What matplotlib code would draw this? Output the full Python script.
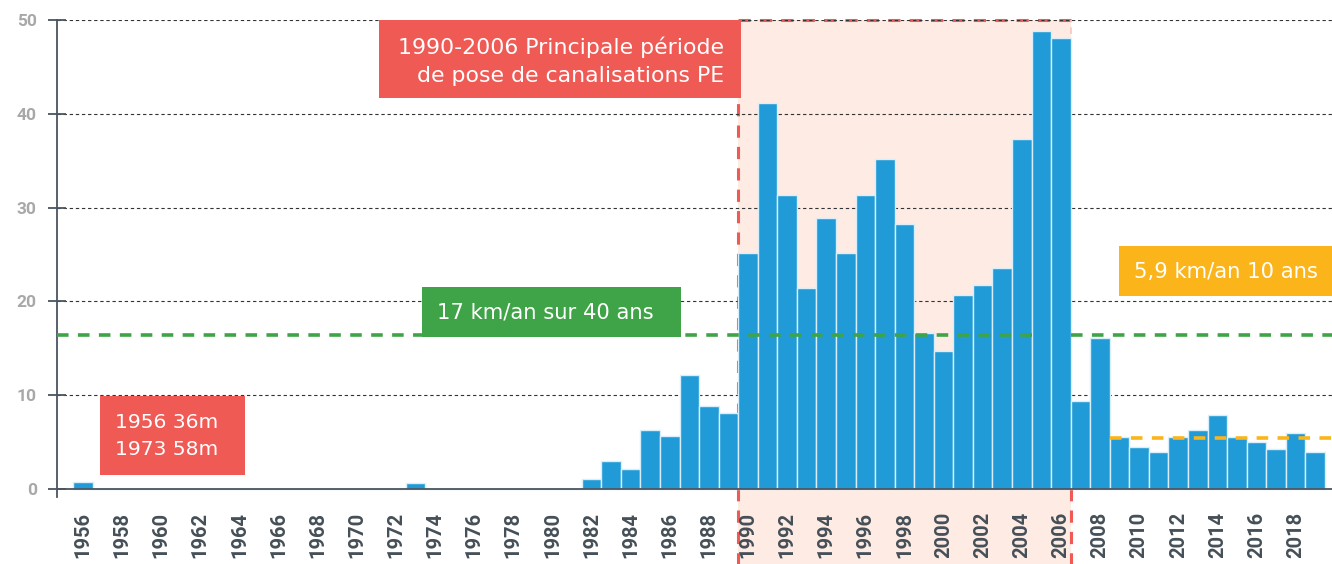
import numpy as np
import matplotlib
matplotlib.use('Agg')
import matplotlib.pyplot as plt
from matplotlib.patches import Rectangle

years = np.arange(1956, 2020)
values = np.zeros(len(years))
values[years == 1956] = 0.7
values[years == 1973] = 0.6
recent_years = np.arange(1982, 2020)
recent_values = [1.1, 3.0, 2.1, 6.3, 5.6, 12.1, 8.9, 8.1,
                 25.2, 41.2, 31.3, 21.4, 28.9, 25.2, 31.3, 35.2, 28.3, 16.6,
                 14.7, 20.7, 21.8, 23.6, 37.3, 48.8, 48.1,
                 9.35, 16.1, 5.5, 4.5, 3.9, 5.5, 6.3, 7.9, 5.5, 5.0, 4.3, 6.0, 3.9]
values[np.isin(years, recent_years)] = recent_values

tick_years = np.arange(1956, 2019, 2)
y_ticks = [0, 10, 20, 30, 40, 50]

avg_40 = 16.4
avg_10 = 5.45
period = (1990, 2006)

BLUE = '#209bd7'
RED = '#f05a55'
PINK = '#fdebe4'
GREEN = '#3fa447'
ORANGE = '#fbb51a'
DARK = '#4a5560'

fig = plt.figure(figsize=(13.32, 5.64), dpi=100)
ax = fig.add_axes([57 / 1332, 1 - 496.5 / 564, 1 - 57 / 1332, (496.5 - 20) / 564])
x0, x1 = 1954.67, 2019.86
ax.set_xlim(x0, x1)
ax.set_ylim(-0.8, 50)

# shaded period, running down below the axis
left, right = period[0] - 0.5, period[1] + 0.5
ax.add_patch(Rectangle((left, -8.1), right - left, 58.1,
                       facecolor=PINK, edgecolor='none', zorder=0.5, clip_on=False))
dash = (0, (4, 3))
ax.plot([left, left], [-8.1, 50], color=RED, lw=2.2, ls=dash, zorder=0.6, clip_on=False)
ax.plot([left, right], [50, 50], color=RED, lw=2.2, ls=dash, zorder=0.6, clip_on=False)
ax.plot([right, right], [-8.1, 0], color=RED, lw=2.2, ls=dash, zorder=0.6, clip_on=False)
ax.plot([right, right], [0, 50], color='#f7c6c0', lw=1.2, ls=dash, zorder=0.6, clip_on=False)

for t in y_ticks[1:]:
    ax.axhline(t, color='#333333', linewidth=0.8, linestyle=(0, (3, 2.5)), zorder=1)
ax.axhline(0, color=DARK, linewidth=1.3, zorder=2.5)

ax.bar(years, values, width=1.0, color=BLUE, edgecolor='#d8eefa', linewidth=1.0, zorder=2)

# average lines
avg_style = dict(linewidth=2.6, linestyles=(0, (3.2, 2.6)), zorder=3)
ax.hlines(avg_40, x0, 2004.5, colors=GREEN, **avg_style)
ax.hlines(avg_40, 2006.5, x1, colors=GREEN, **avg_style)
ax.hlines(avg_10, 2008.5, x1, colors=ORANGE, **avg_style)

# annotation boxes
font = 'DejaVu Sans'
ax.add_patch(Rectangle((1971.13, 41.7), 1989.64 - 1971.13, 8.3, facecolor=RED,
                       edgecolor='none', zorder=4))
ax.text(1988.77, 45.55, '1990-2006 Principale période\nde pose de canalisations PE',
        ha='right', va='center', color='white', fontsize=15.8, family=font,
        linespacing=1.5, zorder=5)

ax.add_patch(Rectangle((1973.33, 16.2), 1986.57 - 1973.33, 5.34, facecolor=GREEN,
                       edgecolor='none', zorder=4))
ax.text(1974.1, 18.85, '17 km/an sur 40 ans', ha='left', va='center', color='white',
        fontsize=15.2, family=font, zorder=5)

ax.add_patch(Rectangle((2008.97, 20.58), x1 - 2008.97, 5.32, facecolor=ORANGE,
                       edgecolor='none', zorder=4, clip_on=False))
ax.text(2014.45, 23.15, '5,9 km/an 10 ans', ha='center', va='center', color='white',
        fontsize=15.2, family=font, zorder=5)

ax.add_patch(Rectangle((1956.87, 1.5), 1964.28 - 1956.87, 8.4, facecolor=RED,
                       edgecolor='none', zorder=4))
ax.text(1957.64, 5.65, '1956 36m\n1973 58m', ha='left', va='center', color='white',
        fontsize=14.6, family=font, linespacing=1.55, zorder=5)

# axes styling
for s in ['top', 'right', 'bottom']:
    ax.spines[s].set_visible(False)
ax.spines['left'].set_color(DARK)
ax.spines['left'].set_linewidth(1.3)

ax.set_yticks(y_ticks)
ax.set_yticklabels([str(t) for t in y_ticks], fontsize=12.5, fontweight='bold',
                   color='#a8a8a8', family='Roboto')
ax.tick_params(axis='y', direction='inout', length=13, width=1.3, color=DARK, pad=8)

ax.set_xticks(tick_years)
ax.set_xticklabels([str(t) for t in tick_years], rotation=90, fontsize=14.5,
                   fontweight='bold', color='#454f57', family='Roboto')
ax.tick_params(axis='x', length=0, pad=11)

fig.savefig('out.png', dpi=100)
